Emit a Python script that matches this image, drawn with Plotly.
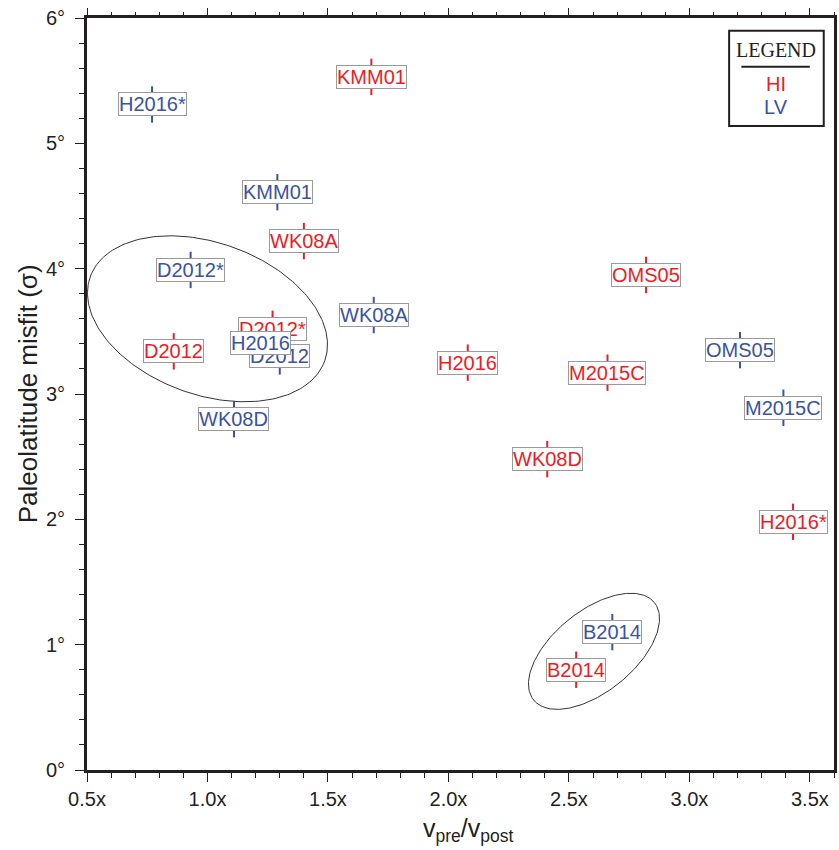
import numpy as np
import plotly.graph_objects as go

# ---- data -------------------------------------------------------------
hi_labels = ["KMM01", "WK08A", "D2012*", "D2012", "H2016", "OMS05",
             "M2015C", "WK08D", "H2016*", "B2014"]
hi_x = [1.68, 1.40, 1.27, 0.86, 2.08, 2.82, 2.66, 2.41, 3.43, 2.53]
hi_y = [5.53, 4.22, 3.52, 3.34, 3.25, 3.95, 3.17, 2.48, 1.98, 0.80]

lv_labels = ["H2016*", "KMM01", "D2012*", "WK08A", "D2012", "H2016",
             "WK08D", "OMS05", "M2015C", "B2014"]
lv_x = [0.77, 1.29, 0.93, 1.69, 1.30, 1.22, 1.11, 3.21, 3.39, 2.68]
lv_y = [5.31, 4.61, 3.99, 3.63, 3.30, 3.41, 2.80, 3.35, 2.89, 1.10]

x_ticks = [0.5, 1.0, 1.5, 2.0, 2.5, 3.0, 3.5]
x_ticktext = ["0.5x", "1.0x", "1.5x", "2.0x", "2.5x", "3.0x", "3.5x"]
y_ticks = [0, 1, 2, 3, 4, 5, 6]
y_ticktext = [f"{v}°" for v in y_ticks]

# grouping ellipses: centre (data), semi-axes (px), tilt (deg)
ellipse_centres = [(1.00, 3.60), (2.604, 0.947)]
ellipse_axes_px = [(125, 76), (77.8, 40.6)]
ellipse_tilt_deg = [-19.6, 38.7]

# ---- layout constants ------------------------------------------------
W, H = 839, 850
ML, MR, MT, MB = 87, 2, 18, 80
X_RANGE = [0.5, 3.6]
Y_RANGE = [0, 6]
px_per_x = (W - ML - MR) / (X_RANGE[1] - X_RANGE[0])
px_per_y = (H - MT - MB) / (Y_RANGE[1] - Y_RANGE[0])

RED = "#ED1C24"
BLUE = "#3A53A4"
INK = "#231f20"
SANS = "Liberation Sans, Arial, Helvetica, sans-serif"
SERIF = "Liberation Serif, Times New Roman, serif"


def paper_x(px):
    return (px - ML) / (W - ML - MR)


def paper_y(py):
    return (H - MB - py) / (H - MT - MB)


fig = go.Figure()

# grouping ellipses
t = np.linspace(0, 2 * np.pi, 241)
for (cx, cy), (a, b), tilt in zip(ellipse_centres, ellipse_axes_px, ellipse_tilt_deg):
    phi = np.radians(tilt)
    dx = a * np.cos(t) * np.cos(phi) - b * np.sin(t) * np.sin(phi)
    dy = a * np.cos(t) * np.sin(phi) + b * np.sin(t) * np.cos(phi)
    fig.add_trace(go.Scatter(
        x=cx + dx / px_per_x, y=cy + dy / px_per_y, mode="lines",
        line=dict(color="#333333", width=1), hoverinfo="skip", showlegend=False))

# vertical tick marks at each model position
for xs, ys, col in [(hi_x, hi_y, RED), (lv_x, lv_y, BLUE)]:
    fig.add_trace(go.Scatter(
        x=xs, y=ys, mode="markers",
        marker=dict(symbol="line-ns", size=26, line=dict(color=col, width=2)),
        hoverinfo="skip", showlegend=False))

# invisible trace to anchor the top axis
fig.add_trace(go.Scatter(x=X_RANGE, y=Y_RANGE, xaxis="x2", mode="markers",
                         marker=dict(opacity=0), hoverinfo="skip", showlegend=False))

annotations = []
for labels, xs, ys, col in [(hi_labels, hi_x, hi_y, RED), (lv_labels, lv_x, lv_y, BLUE)]:
    for lab, x, y in zip(labels, xs, ys):
        annotations.append(dict(
            x=x, y=y, xref="x", yref="y", text=lab, showarrow=False,
            xanchor="center", yanchor="middle",
            font=dict(family=SANS, size=20, color=col),
            bgcolor="white", bordercolor="#9a9a9a", borderwidth=1, borderpad=0))

# legend block
annotations += [
    dict(x=paper_x(779), y=paper_y(50), xref="paper", yref="paper", text="LEGEND",
         showarrow=False, xanchor="center", yanchor="middle",
         font=dict(family=SERIF, size=20, color=INK)),
    dict(x=paper_x(779), y=paper_y(84), xref="paper", yref="paper", text="HI",
         showarrow=False, xanchor="center", yanchor="middle",
         font=dict(family=SANS, size=20, color=RED)),
    dict(x=paper_x(779), y=paper_y(107), xref="paper", yref="paper", text="LV",
         showarrow=False, xanchor="center", yanchor="middle",
         font=dict(family=SANS, size=20, color=BLUE)),
]

# axis titles
annotations += [
    dict(x=paper_x(28), y=0.5, xref="paper", yref="paper",
         text="Paleolatitude misfit (σ)", textangle=-90, showarrow=False,
         xanchor="center", yanchor="middle",
         font=dict(family=SANS, size=26, color=INK)),
    dict(x=paper_x(470), y=paper_y(830), xref="paper", yref="paper",
         text="v<sub>pre</sub>/v<sub>post</sub>", showarrow=False,
         xanchor="center", yanchor="middle",
         font=dict(family=SANS, size=25, color=INK)),
]

shapes = [
    dict(type="rect", xref="paper", yref="paper",
         x0=paper_x(731.7), x1=paper_x(826.7), y0=paper_y(126), y1=paper_y(30.7),
         line=dict(color=INK, width=2), fillcolor="white", layer="below"),
    dict(type="line", xref="paper", yref="paper",
         x0=paper_x(744), x1=paper_x(812.7), y0=paper_y(66.7), y1=paper_y(66.7),
         line=dict(color=INK, width=2)),
]

axis_common = dict(
    showgrid=False, zeroline=False, ticks="outside", ticklen=9, tickwidth=1.3,
    tickcolor=INK, tickfont=dict(family=SANS, size=20, color=INK),
)

fig.update_layout(
    width=W, height=H, margin=dict(l=ML, r=MR, t=MT, b=MB),
    paper_bgcolor="white", plot_bgcolor="white", showlegend=False,
    xaxis=dict(range=X_RANGE, tickvals=x_ticks, ticktext=x_ticktext,
               showline=True, linewidth=3, linecolor=INK, mirror=True,
               minor=dict(ticks="outside", ticklen=5, dtick=0.1, tick0=0.5,
                          tickcolor=INK, tickwidth=1.2),
               **axis_common),
    xaxis2=dict(range=X_RANGE, overlaying="x", side="top", showticklabels=False,
                showgrid=False, zeroline=False, showline=False,
                ticks="outside", ticklen=9, tickwidth=1.3, tickcolor=INK,
                tickvals=x_ticks,
                minor=dict(ticks="outside", ticklen=5, dtick=0.1, tick0=0.5,
                           tickcolor=INK, tickwidth=1.2)),
    yaxis=dict(range=Y_RANGE, tickvals=y_ticks, ticktext=y_ticktext,
               showline=True, linewidth=3, linecolor=INK, mirror=True,
               ticklabelstandoff=6,
               minor=dict(ticks="outside", ticklen=5, dtick=0.2, tick0=0,
                          tickcolor=INK, tickwidth=1.2),
               **axis_common),
    annotations=annotations,
    shapes=shapes,
)

fig.write_html("out.html")
